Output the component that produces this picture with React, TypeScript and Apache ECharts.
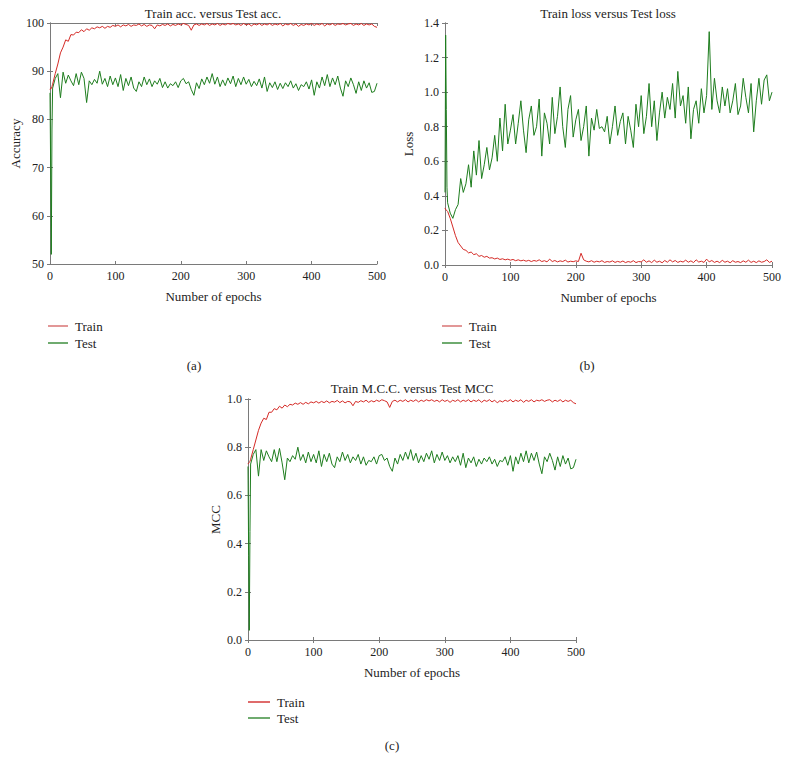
import React, { useEffect, useRef } from "react";
import * as echarts from "echarts";

// Sampled epochs (x values shared by every series)
const epochs = [
  0, 1, 2, 3,
  4, 8, 12, 16, 20, 24, 28, 32, 36, 40, 44, 48, 52, 56, 60, 64, 68, 72, 76, 80, 84, 88, 92, 96, 100,
  104, 108, 112, 116, 120, 124, 128, 132, 136, 140, 144, 148, 152, 156, 160, 164, 168, 172, 176, 180, 184, 188, 192, 196, 200,
  204, 208, 212, 216, 220, 224, 228, 232, 236, 240, 244, 248, 252, 256, 260, 264, 268, 272, 276, 280, 284, 288, 292, 296, 300,
  304, 308, 312, 316, 320, 324, 328, 332, 336, 340, 344, 348, 352, 356, 360, 364, 368, 372, 376, 380, 384, 388, 392, 396, 400,
  404, 408, 412, 416, 420, 424, 428, 432, 436, 440, 444, 448, 452, 456, 460, 464, 468, 472, 476, 480, 484, 488, 492, 496, 500,
];

const trainAcc = [
  86.2, 86.5, 86.4, 86.8, 87.3,
  89.5, 91.5, 93.8, 95, 96.5, 96.2, 97.6, 97.5, 98.1, 98, 98.6, 98.2, 98.8, 98.5, 99, 98.8, 99.2, 99, 99.3, 98.9, 99.3, 99.1, 99.5, 99.3,
  99.6, 99.2, 99.6, 99.4, 99.7, 99.3, 99.6, 99.5, 99.8, 99.4, 99.7, 99.3, 99.6, 99.5, 98.8, 99.6, 99.4, 99.7, 99.5, 99.8, 99.4, 99.7, 99.5, 99.8, 99.6,
  99.9, 99.7, 99.5, 98.5, 99.6, 99.8, 99.5, 99.8, 99.6, 99.9, 99.5, 99.8, 99.6, 99.9, 99.5, 99.8, 99.6, 99.9, 99.7, 99.9, 99.6, 99.8, 99.5, 99.9, 99.6,
  99.8, 99.4, 99.8, 99.6, 99.9, 99.5, 99.8, 99.6, 99.9, 99.5, 99.8, 99.6, 99.9, 99.4, 99.8, 99.6, 99.9, 99.5, 99.8, 99.3, 99.7, 99.5, 99.8, 99.6, 99.9,
  99.5, 99.8, 99.6, 99.9, 99.4, 99.8, 99.6, 99.9, 99.5, 99.8, 99.7, 99.9, 99.6, 99.8, 99.9, 99.5, 99.8, 99.6, 99.9, 99.5, 99.8, 99.6, 99.8, 99.3, 99.1,
];

const testAcc = [
  85.5, 70, 52, 78, 86.5,
  88.5, 89.5, 84.5, 89.8, 87.5, 89.2, 88, 87, 89.5, 87.2, 89.8, 88.5, 83.5, 88, 87.2, 88.3, 87.5, 90, 87.3, 88.5, 86.8, 89, 87.2, 88.6,
  86.8, 89.3, 86, 88.5, 87, 88.8, 86.5, 85.8, 87.8, 86.8, 88.8, 87.2, 88.4, 86.8, 88, 87.3, 88.5, 86.6, 87.8, 86.5, 87.4, 87, 87.8, 86.6, 88,
  88.5, 87.4, 87.8, 86.2, 85, 87.6, 86.4, 88.4, 87.2, 88.8, 87.5, 89.5, 87.3, 88.8, 86.8, 88.2, 87, 88.6, 87.4, 89, 86.8, 88.5, 87.2, 88.8, 87.3,
  88.3, 86.8, 87.9, 87, 88.4, 86.5, 88.8, 85.8, 87.6, 86.6, 87.8, 86.2, 87.5, 86.4, 87.6, 86.8, 88, 86.5, 87.4, 86, 87.2, 86.8, 87.8, 86.3, 88.2,
  85, 87.8, 86.5, 88.8, 87, 89.3, 86.8, 88.6, 87.2, 89, 86.5, 84.8, 88, 86.8, 88.6, 87.2, 85.4, 87.8, 86, 88, 86.5, 87.6, 85.6, 85.8, 87.5,
];

const trainLoss = [
  0.33, 0.32, 0.32, 0.315, 0.31,
  0.27, 0.22, 0.17, 0.13, 0.11, 0.09, 0.085, 0.07, 0.075, 0.06, 0.065, 0.05, 0.055, 0.045, 0.05, 0.04, 0.042, 0.035, 0.04, 0.032, 0.036, 0.03, 0.034, 0.028,
  0.032, 0.025, 0.03, 0.024, 0.028, 0.022, 0.027, 0.02, 0.026, 0.022, 0.03, 0.02, 0.025, 0.018, 0.034, 0.02, 0.026, 0.018, 0.024, 0.02, 0.028, 0.017, 0.022, 0.019, 0.024,
  0.02, 0.068, 0.03, 0.022, 0.018, 0.025, 0.016, 0.022, 0.018, 0.025, 0.015, 0.02, 0.017, 0.024, 0.015, 0.021, 0.016, 0.023, 0.014, 0.02, 0.016, 0.025, 0.014, 0.02, 0.018,
  0.03, 0.016, 0.024, 0.014, 0.028, 0.016, 0.022, 0.013, 0.026, 0.016, 0.03, 0.018, 0.026, 0.015, 0.022, 0.017, 0.028, 0.016, 0.024, 0.014, 0.03, 0.017, 0.022, 0.015, 0.034,
  0.018, 0.026, 0.015, 0.022, 0.014, 0.027, 0.016, 0.022, 0.013, 0.025, 0.016, 0.02, 0.014, 0.024, 0.016, 0.028, 0.015, 0.022, 0.014, 0.024, 0.016, 0.02, 0.03, 0.015, 0.022,
];

const testLoss = [
  0.42, 1.33, 0.9, 0.45, 0.36,
  0.3, 0.27, 0.32, 0.35, 0.5, 0.42, 0.47, 0.58, 0.45, 0.66, 0.52, 0.72, 0.5, 0.58, 0.68, 0.55, 0.62, 0.75, 0.6, 0.85, 0.66, 0.93, 0.7, 0.78,
  0.87, 0.7, 0.82, 0.95, 0.78, 0.65, 0.84, 0.92, 0.75, 0.8, 0.96, 0.63, 0.88, 0.82, 0.7, 0.97, 0.76, 0.86, 1.03, 0.8, 0.68, 0.9, 0.98, 0.74, 0.84,
  0.9, 0.72, 0.8, 0.92, 0.63, 0.85, 0.78, 0.9, 0.79, 0.8, 0.77, 0.86, 0.7, 0.8, 0.92, 0.75, 0.83, 0.88, 0.7, 0.86, 0.78, 0.68, 0.93, 0.8, 0.98,
  0.76, 0.86, 1.05, 0.8, 0.95, 0.72, 0.88, 1.0, 0.85, 0.97, 0.9, 1.05, 0.85, 1.12, 0.92, 0.98, 0.82, 1.03, 0.73, 0.9, 0.95, 0.82, 1.02, 0.88, 0.98,
  1.35, 0.9, 1.08, 0.95, 0.88, 1.03, 0.92, 1.02, 0.88, 0.95, 1.05, 0.87, 0.92, 1.08, 0.97, 0.88, 1.05, 0.77, 0.95, 1.08, 0.93, 1.07, 1.1, 0.95, 1.0,
];

const trainMcc = [
  0.73, 0.735, 0.735, 0.74, 0.75,
  0.79, 0.83, 0.87, 0.9, 0.92, 0.915, 0.945, 0.945, 0.96, 0.955, 0.97, 0.962, 0.975, 0.968, 0.978, 0.975, 0.983, 0.978, 0.985, 0.978, 0.986, 0.98, 0.988, 0.984,
  0.99, 0.983, 0.99, 0.985, 0.992, 0.984, 0.99, 0.987, 0.994, 0.985, 0.992, 0.984, 0.99, 0.988, 0.972, 0.99, 0.986, 0.993, 0.988, 0.995, 0.986, 0.993, 0.988, 0.995, 0.99,
  0.997, 0.993, 0.988, 0.965, 0.99, 0.995, 0.988, 0.995, 0.99, 0.997, 0.988, 0.995, 0.99, 0.997, 0.988, 0.995, 0.99, 0.997, 0.992, 0.997, 0.99, 0.995, 0.988, 0.997, 0.99,
  0.995, 0.986, 0.995, 0.99, 0.997, 0.988, 0.995, 0.99, 0.997, 0.988, 0.995, 0.99, 0.997, 0.986, 0.995, 0.99, 0.997, 0.988, 0.995, 0.984, 0.993, 0.988, 0.995, 0.99, 0.997,
  0.988, 0.995, 0.99, 0.997, 0.986, 0.995, 0.99, 0.997, 0.988, 0.995, 0.992, 0.997, 0.99, 0.995, 0.997, 0.988, 0.995, 0.99, 0.997, 0.988, 0.995, 0.99, 0.995, 0.985, 0.98,
];

const testMcc = [
  0.72, 0.35, 0.04, 0.45, 0.73,
  0.77, 0.79, 0.68, 0.79, 0.745, 0.785, 0.76, 0.74, 0.79, 0.74, 0.795, 0.735, 0.665, 0.755, 0.74, 0.765, 0.75, 0.8, 0.745, 0.77, 0.735, 0.78, 0.74, 0.77,
  0.735, 0.785, 0.72, 0.77, 0.74, 0.775, 0.73, 0.715, 0.76, 0.74, 0.78, 0.745, 0.77, 0.735, 0.76, 0.745, 0.77, 0.73, 0.76, 0.725, 0.745, 0.74, 0.76, 0.73, 0.765,
  0.77, 0.745, 0.755, 0.72, 0.7, 0.755, 0.73, 0.77, 0.745, 0.78, 0.75, 0.79, 0.745, 0.775, 0.735, 0.765, 0.74, 0.775, 0.75, 0.785, 0.735, 0.77, 0.745, 0.78, 0.745,
  0.765, 0.735, 0.76, 0.74, 0.765, 0.725, 0.775, 0.715, 0.755, 0.735, 0.76, 0.72, 0.75, 0.73, 0.755, 0.74, 0.76, 0.73, 0.75, 0.72, 0.745, 0.74, 0.76, 0.725, 0.765,
  0.7, 0.76, 0.73, 0.775, 0.74, 0.785, 0.735, 0.775, 0.745, 0.78, 0.73, 0.69, 0.76, 0.74, 0.775, 0.745, 0.705, 0.76, 0.72, 0.765, 0.73, 0.755, 0.71, 0.715, 0.75,
];

const titles = ["Train acc. versus Test acc.", "Train loss versus Test loss", "Train M.C.C. versus Test MCC"];
const yNames = ["Accuracy", "Loss", "MCC"];
const xName = "Number of epochs";
const captions = ["(a)", "(b)", "(c)"];
const legendNames = ["Train", "Test"];

const FONT = "Liberation Serif";
const RED = "#d42a26";
const GREEN = "#1e7d1e";
const FRAME = "#7a7a7a";

export default function App() {
  const ref = useRef<HTMLDivElement>(null);

  useEffect(() => {
    if (!ref.current) return;
    const chart = echarts.init(ref.current, undefined, { renderer: "svg" });

    const grids = [
      { left: 50, top: 23, width: 327, height: 241 },
      { left: 445, top: 23, width: 327, height: 242 },
      { left: 248, top: 399, width: 328, height: 241 },
    ];
    const yRanges = [
      { min: 50, max: 100, interval: 10, dec: 0, gap: 28 },
      { min: 0, max: 1.4, interval: 0.2, dec: 1, gap: 30 },
      { min: 0, max: 1, interval: 0.2, dec: 1, gap: 26 },
    ];
    const pairs = [
      [trainAcc, testAcc],
      [trainLoss, testLoss],
      [trainMcc, testMcc],
    ];

    const tick = { show: true, inside: true, length: 3, lineStyle: { color: FRAME } };
    const line = { show: true, lineStyle: { color: FRAME, width: 1 } };
    const labelStyle = { fontFamily: FONT, fontSize: 12, color: "#222" };

    const xAxis: any[] = [];
    const yAxis: any[] = [];
    grids.forEach((_, g) => {
      xAxis.push({
        type: "value", gridIndex: g, min: 0, max: 500, interval: 100, position: "bottom",
        axisLine: line, axisTick: tick, splitLine: { show: false },
        axisLabel: { ...labelStyle, margin: 6 },
        name: xName, nameLocation: "middle", nameGap: 26,
        nameTextStyle: { fontFamily: FONT, fontSize: 13, color: "#222" },
      });
      const r = yRanges[g];
      yAxis.push({
        type: "value", gridIndex: g, min: r.min, max: r.max, interval: r.interval, position: "left",
        axisLine: line, axisTick: tick, splitLine: { show: false },
        axisLabel: { ...labelStyle, margin: 6, formatter: (v: number) => v.toFixed(r.dec) },
        name: yNames[g], nameLocation: "middle", nameGap: r.gap,
        nameTextStyle: { fontFamily: FONT, fontSize: 13, color: "#222" },
      });
    });
    grids.forEach((_, g) => {
      xAxis.push({
        type: "value", gridIndex: g, min: 0, max: 500, interval: 100, position: "top",
        axisLine: line, axisTick: tick, axisLabel: { show: false }, splitLine: { show: false },
      });
      const r = yRanges[g];
      yAxis.push({
        type: "value", gridIndex: g, min: r.min, max: r.max, interval: r.interval, position: "right",
        axisLine: line, axisTick: tick, axisLabel: { show: false }, splitLine: { show: false },
      });
    });

    const series: any[] = [];
    pairs.forEach((pr, g) => {
      pr.forEach((vals, k) => {
        series.push({
          type: "line",
          name: legendNames[k],
          xAxisIndex: g,
          yAxisIndex: g,
          data: epochs.map((e, i) => [e, vals[i]]),
          showSymbol: false,
          symbol: "none",
          lineStyle: { width: 1, color: k === 0 ? RED : GREEN },
          itemStyle: { color: k === 0 ? RED : GREEN },
          z: k === 0 ? 3 : 2,
        });
      });
    });

    const titleCenters = [
      { x: 213, y: 13 },
      { x: 608, y: 13 },
      { x: 412, y: 388 },
    ];
    const captionPos = [
      { x: 194, y: 365 },
      { x: 587, y: 365 },
      { x: 392, y: 745 },
    ];
    const graphic: any[] = [];
    titles.forEach((t, g) => {
      graphic.push({
        type: "text", x: titleCenters[g].x, y: titleCenters[g].y,
        style: { text: t, fontFamily: FONT, fontSize: 13, fill: "#222", textAlign: "center", textVerticalAlign: "middle" },
      });
    });
    captions.forEach((t, g) => {
      graphic.push({
        type: "text", x: captionPos[g].x, y: captionPos[g].y,
        style: { text: t, fontFamily: FONT, fontSize: 13, fill: "#222", textAlign: "center", textVerticalAlign: "middle" },
      });
    });

    // legends (line sample + label), one per panel
    const legendPos = [
      { x: 48, y: 326, dy: 17, w: 20, colors: ["#d87474", "#3f8f3f"] },
      { x: 442, y: 326, dy: 17, w: 20, colors: ["#d87474", "#3f8f3f"] },
      { x: 248, y: 702, dy: 16, w: 22, colors: ["#d43a3a", "#3f8f3f"] },
    ];
    legendPos.forEach((p) => {
      legendNames.forEach((n, k) => {
        const yy = p.y + k * p.dy;
        graphic.push({
          type: "line",
          shape: { x1: p.x, y1: yy, x2: p.x + p.w, y2: yy },
          style: { stroke: p.colors[k], lineWidth: 1.5 },
        });
        graphic.push({
          type: "text", x: p.x + p.w + 7, y: yy,
          style: { text: n, fontFamily: FONT, fontSize: 13, fill: "#222", textAlign: "left", textVerticalAlign: "middle" },
        });
      });
    });

    chart.setOption({
      animation: false,
      backgroundColor: "#ffffff",
      grid: grids.map((g) => ({ ...g, show: false, containLabel: false })),
      xAxis,
      yAxis,
      series,
      graphic,
    });

    return () => chart.dispose();
  }, []);

  return (
    <div
      ref={ref}
      style={{ position: "fixed", left: 0, top: 0, width: 789, height: 771, background: "#fff" }}
    />
  );
}
